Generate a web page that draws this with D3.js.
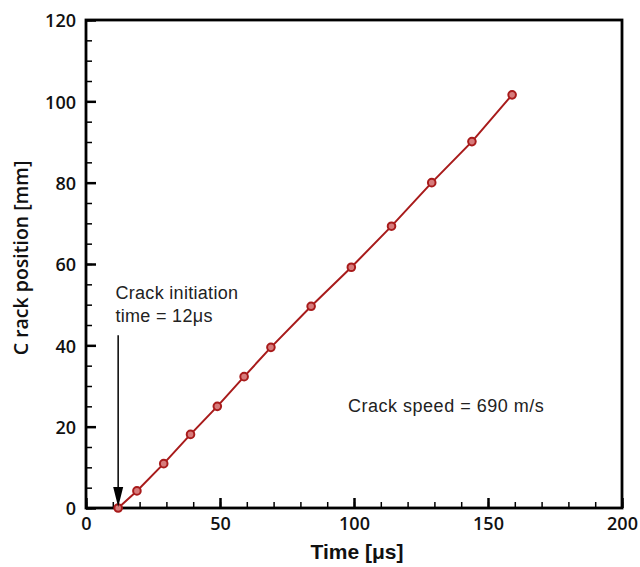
<!DOCTYPE html>
<html>
<head>
<meta charset="utf-8">
<script src="https://cdn.jsdelivr.net/npm/d3@7"></script>
<style>
  body { margin: 0; background: #fff; }
  .tick text { font-family: "Open Sans", sans-serif; font-weight: 600; font-size: 18px; fill: #111; }
</style>
</head>
<body>
<div id="chart"></div>
<script>
// data
var timeUs = [12, 19, 29, 39, 49, 59, 69, 84, 99, 114, 129, 144, 159];
var crackPos = [0, 4.2, 10.9, 18.1, 25.0, 32.3, 39.5, 49.6, 59.2, 69.3, 80.0, 90.1, 101.6];
var xMajor = [0, 50, 100, 150, 200];
var yMajor = [0, 20, 40, 60, 80, 100, 120];
var initTime = 12;

var data = timeUs.map(function (t, i) { return { t: t, p: crackPos[i] }; });

// plot box
var margin = { top: 20, right: 18, bottom: 59, left: 86 },
    width = 640 - margin.left - margin.right,
    height = 567 - margin.top - margin.bottom;

var svg = d3.select("#chart")
    .append("svg")
    .attr("width", 640)
    .attr("height", 567)
    .append("g")
    .attr("transform", "translate(" + margin.left + "," + margin.top + ")");

var x = d3.scaleLinear().domain([0, 200]).range([0, width]);
var y = d3.scaleLinear().domain([0, 120]).range([height, 0]);

// minor ticks
svg.append("g")
    .attr("transform", "translate(0," + height + ")")
    .call(d3.axisBottom(x).tickValues(d3.range(0, 201, 10)).tickSize(-6).tickFormat(""))
    .call(function (g) { g.select(".domain").remove(); })
    .selectAll("line").attr("stroke-width", 1.5).attr("stroke", "#000");
svg.append("g")
    .call(d3.axisLeft(y).tickValues(d3.range(0, 121, 5)).tickSize(-6).tickFormat(""))
    .call(function (g) { g.select(".domain").remove(); })
    .selectAll("line").attr("stroke-width", 1.5).attr("stroke", "#000");

// major ticks + labels
var xAxis = svg.append("g")
    .attr("transform", "translate(0," + height + ")")
    .call(d3.axisBottom(x).tickValues(xMajor).tickSize(-10).tickFormat(d3.format("d")));
xAxis.select(".domain").remove();
xAxis.selectAll("line").attr("stroke-width", 2.5).attr("stroke", "#000");
xAxis.selectAll("text").attr("dy", "0.71em").attr("y", 9);

var yAxis = svg.append("g")
    .call(d3.axisLeft(y).tickValues(yMajor).tickSize(-10).tickFormat(d3.format("d")));
yAxis.select(".domain").remove();
yAxis.selectAll("line").attr("stroke-width", 2.5).attr("stroke", "#000");
yAxis.selectAll("text").attr("x", -10).attr("dy", "0.38em");

// frame
svg.append("rect")
    .attr("x", 0).attr("y", 0)
    .attr("width", width).attr("height", height)
    .attr("fill", "none")
    .attr("stroke", "#000")
    .attr("stroke-width", 2.8);

// the line
var red = "#a81b1b";
svg.append("path")
    .datum(data)
    .attr("fill", "none")
    .attr("stroke", red)
    .attr("stroke-width", 2)
    .attr("d", d3.line()
        .x(function (d) { return x(d.t); })
        .y(function (d) { return y(d.p); }));

svg.selectAll("circle.pt")
    .data(data)
    .enter().append("circle")
    .attr("class", "pt")
    .attr("cx", function (d) { return x(d.t); })
    .attr("cy", function (d) { return y(d.p); })
    .attr("r", 3.8)
    .attr("fill", "#d77b7b")
    .attr("stroke", red)
    .attr("stroke-width", 2);

// arrow to the initiation time
var ax = x(initTime);
svg.append("line")
    .attr("x1", ax).attr("x2", ax)
    .attr("y1", y(42.5)).attr("y2", y(4))
    .attr("stroke", "#000")
    .attr("stroke-width", 1.5);
svg.append("path")
    .attr("d", "M" + (ax - 5) + "," + (y(0) - 21) + "L" + (ax + 5) + "," + (y(0) - 21) + "L" + ax + "," + (y(0) - 1) + "Z")
    .attr("fill", "#000");

// annotations
var note = svg.append("text")
    .attr("font-family", "Liberation Sans, Arial, sans-serif")
    .attr("font-size", 18)
    .attr("letter-spacing", 0.3)
    .attr("fill", "#222");
note.append("tspan").attr("x", x(11)).attr("y", y(51.5)).text("Crack initiation");
note.append("tspan").attr("x", x(11)).attr("y", y(45.8)).text("time = 12\u03bcs");

svg.append("text")
    .attr("x", x(97.8))
    .attr("y", y(23.5))
    .attr("font-family", "Liberation Sans, Arial, sans-serif")
    .attr("font-size", 18)
    .attr("letter-spacing", 0.5)
    .attr("fill", "#222")
    .text("Crack speed = 690 m/s");

// axis titles
svg.append("text")
    .attr("x", width / 2 + 3)
    .attr("y", height + 51)
    .attr("text-anchor", "middle")
    .attr("font-family", "Liberation Sans, Arial, sans-serif")
    .attr("font-weight", "bold")
    .attr("font-size", 21)
    .attr("fill", "#111")
    .text("Time [\u03bcs]");

svg.append("text")
    .attr("transform", "translate(-58," + (height / 2 - 6) + ") rotate(-90)")
    .attr("text-anchor", "middle")
    .attr("font-family", "Open Sans, sans-serif")
    .attr("font-weight", 600)
    .attr("font-size", 19.5)
    .attr("fill", "#111")
    .text("C rack position [mm]");
</script>
</body>
</html>
